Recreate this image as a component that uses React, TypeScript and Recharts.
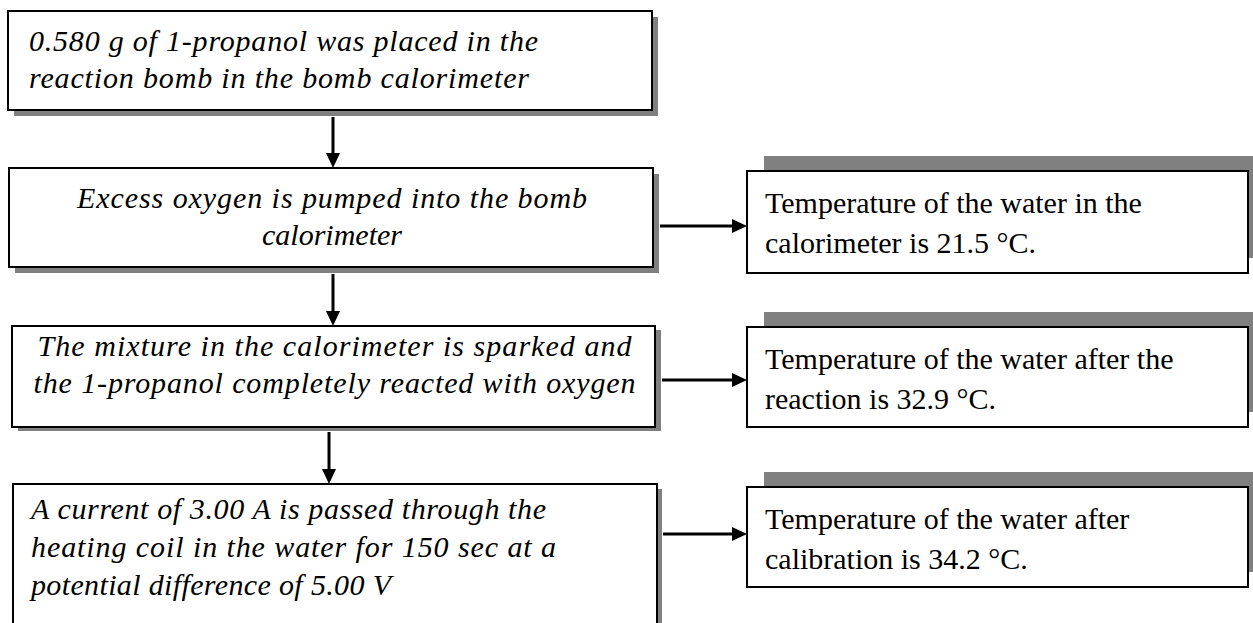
import { ScatterChart, XAxis, YAxis, ReferenceArea, ReferenceLine } from 'recharts';

// flow steps (left column, italic) and measured results (right column)
const steps = [
  ['0.580 g of 1-propanol was placed in the', 'reaction bomb in the bomb calorimeter'],
  ['Excess oxygen is pumped into the bomb', 'calorimeter'],
  ['The mixture in the calorimeter is sparked and', 'the 1-propanol completely reacted with oxygen'],
  ['A current of 3.00 A is passed through the', 'heating coil in the water for 150 sec at a', 'potential difference of 5.00 V'],
];

const results = [
  ['Temperature of the water in the', 'calorimeter is 21.5 °C.'],
  ['Temperature of the water after the', 'reaction is 32.9 °C.'],
  ['Temperature of the water after', 'calibration is 34.2 °C.'],
];

// which step leads to which result
const links = [
  { from: 1, to: 0 },
  { from: 2, to: 1 },
  { from: 3, to: 2 },
];

const W = 1253;
const H = 623;

// layout in pixel units of the hidden axes
const stepLayout = [
  { x1: 8, x2: 652, y1: 11, y2: 110, dx: 6, dy: 6, center: false, tx: 21, base: [39.5, 76.5], fit: [509, 500] },
  { x1: 9, x2: 653, y1: 168, y2: 267, dx: 6, dy: 6, center: true, tx: 0, base: [40, 77], fit: [510, 140] },
  { x1: 12, x2: 655, y1: 326, y2: 427, dx: 6, dy: 4, center: true, tx: 0, base: [30, 67], fit: [594, 602] },
  { x1: 13, x2: 657, y1: 484, y2: 660, dx: 5, dy: 5, center: false, tx: 18, base: [35, 73, 111], fit: [515, 525, 360] },
];
const resultLayout = [
  { x1: 747, x2: 1248, y1: 171, y2: 273, arrowY: 226 },
  { x1: 747, x2: 1248, y1: 327, y2: 427, arrowY: 380 },
  { x1: 747, x2: 1248, y1: 487, y2: 587, arrowY: 534 },
];
const downX = [333, 333, 329];

const SHADOW = '#808080';

const Arrow = (p: any) => {
  const { x1, y1, x2, y2 } = p;
  const len = Math.hypot(x2 - x1, y2 - y1) || 1;
  const ux = (x2 - x1) / len;
  const uy = (y2 - y1) / len;
  const hl = 15;
  const hw = 7;
  const bx = x2 - ux * hl;
  const by = y2 - uy * hl;
  return (
    <g>
      <line x1={x1} y1={y1} x2={bx + ux} y2={by + uy} stroke="#000" strokeWidth={3} />
      <polygon
        points={`${x2},${y2} ${bx - uy * hw},${by + ux * hw} ${bx + uy * hw},${by - ux * hw}`}
        fill="#000"
      />
    </g>
  );
};

const stepLabel = (i: number) => (props: any) => {
  const vb = props.viewBox;
  const l = stepLayout[i];
  const cx = vb.x + vb.width / 2 + 1;
  return (
    <g>
      {steps[i].map((t, k) => (
        <text
          key={k}
          x={l.center ? cx : vb.x + l.tx}
          y={vb.y + l.base[k]}
          textAnchor={l.center ? 'middle' : 'start'}
          fontFamily="'Liberation Serif', 'Times New Roman', serif"
          fontStyle="italic"
          fontSize={30}
          fill="#000"
          textLength={l.fit[k]}
          lengthAdjust="spacing"
        >
          {t}
        </text>
      ))}
    </g>
  );
};

const resultLabel = (i: number) => (props: any) => {
  const vb = props.viewBox;
  return (
    <g>
      {results[i].map((t, k) => (
        <text
          key={k}
          x={vb.x + 18}
          y={vb.y + 42 + k * 39.5}
          fontFamily="'Liberation Serif', 'Times New Roman', serif"
          fontSize={30}
          fill="#000"
        >
          {t}
        </text>
      ))}
    </g>
  );
};

export default function App() {
  return (
    <div style={{ position: 'absolute', left: 0, top: 0, background: '#fff' }}>
      <ScatterChart width={W} height={H} margin={{ top: 0, right: 0, bottom: 0, left: 0 }}>
        <XAxis type="number" dataKey="x" domain={[0, W]} hide allowDataOverflow />
        <YAxis type="number" dataKey="y" domain={[0, H]} reversed hide allowDataOverflow />

        {stepLayout.map((l, i) => (
          <ReferenceArea
            key={`ss${i}`}
            x1={l.x1 + l.dx}
            x2={l.x2 + l.dx}
            y1={l.y1 + l.dy}
            y2={l.y2 + l.dy}
            fill={SHADOW}
            fillOpacity={1}
            stroke="none"
            ifOverflow="hidden"
          />
        ))}
        {stepLayout.map((l, i) => (
          <ReferenceArea
            key={`sb${i}`}
            x1={l.x1}
            x2={l.x2}
            y1={l.y1}
            y2={l.y2}
            fill="#fff"
            fillOpacity={1}
            stroke="#000"
            strokeWidth={2}
            ifOverflow="hidden"
            label={stepLabel(i)}
          />
        ))}

        {resultLayout.map((l, i) => (
          <ReferenceArea
            key={`rs${i}`}
            x1={l.x1 + 17}
            x2={l.x2 + 17}
            y1={l.y1 - 15}
            y2={l.y2 - 15}
            fill={SHADOW}
            fillOpacity={1}
            stroke="none"
            ifOverflow="hidden"
          />
        ))}
        {resultLayout.map((l, i) => (
          <ReferenceArea
            key={`rb${i}`}
            x1={l.x1}
            x2={l.x2}
            y1={l.y1}
            y2={l.y2}
            fill="#fff"
            fillOpacity={1}
            stroke="#000"
            strokeWidth={2}
            ifOverflow="hidden"
            label={resultLabel(i)}
          />
        ))}

        {downX.map((x, i) => (
          <ReferenceLine
            key={`d${i}`}
            segment={[
              { x, y: stepLayout[i].y2 + stepLayout[i].dy + 1 },
              { x, y: stepLayout[i + 1].y1 },
            ]}
            ifOverflow="visible"
            shape={(p: any) => <Arrow {...p} />}
          />
        ))}
        {links.map((lk, i) => {
          const s = stepLayout[lk.from];
          const r = resultLayout[lk.to];
          const y = r.arrowY;
          return (
            <ReferenceLine
              key={`r${i}`}
              segment={[
                { x: s.x2 + s.dx + 1, y },
                { x: r.x1, y },
              ]}
              ifOverflow="visible"
              shape={(p: any) => <Arrow {...p} />}
            />
          );
        })}
      </ScatterChart>
    </div>
  );
}
